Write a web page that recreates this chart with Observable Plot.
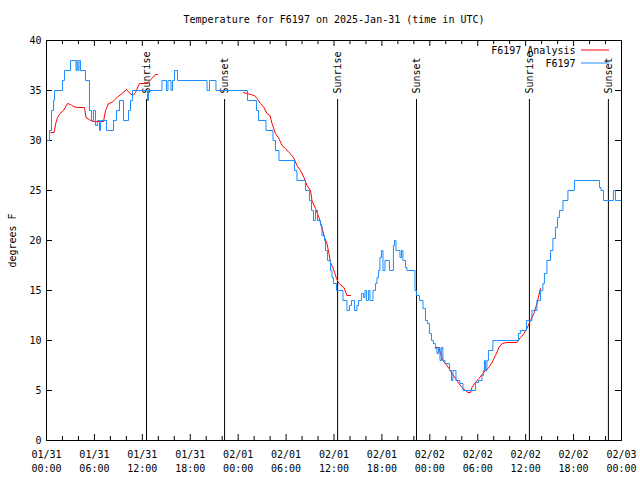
<!DOCTYPE html>
<html><head><meta charset="utf-8">
<script src="https://cdn.jsdelivr.net/npm/d3@7"></script>
<script src="https://cdn.jsdelivr.net/npm/@observablehq/plot@0.6"></script>
<style>html,body{margin:0;padding:0;background:#fff} svg{display:block}</style>
</head><body><div id="chart"></div>
<script>
// Time is in hours after 2025-01-31 00:00 UTC
const startUTC = Date.UTC(2025, 0, 31);
const toDate = h => new Date(startUTC + h * 3600e3);

const titleText = "Temperature for F6197 on 2025-Jan-31 (time in UTC)";
const yLabel = "degrees F";
const seriesNames = ["F6197 Analysis", "F6197"];
const seriesColors = ["#ff0000", "#1a8cff"];

const yDomain = [0, 40];
const yTicks = [0, 5, 10, 15, 20, 25, 30, 35, 40];
const xMajorHours = [0, 6, 12, 18, 24, 30, 36, 42, 48, 54, 60, 66, 72];
const xMinorHours = [2, 4, 8, 10, 14, 16, 20, 22, 26, 28, 32, 34, 38, 40, 44, 46, 50, 52, 56, 58, 62, 64, 68, 70];

const sunHours = [12.52, 22.30, 36.45, 46.33, 60.47, 70.36];
const sunLabels = ["Sunrise", "Sunset", "Sunrise", "Sunset", "Sunrise", "Sunset"];

// F6197 observations (stepped)
const obsHours = [0.13,0.38,0.63,0.88,1.00,2.00,2.25,3.01,3.69,3.82,3.94,4.07,4.26,4.88,5.38,5.63,5.88,6.13,6.38,6.64,6.76,7.51,8.39,8.76,9.14,9.64,10.27,10.52,10.77,12.65,12.77,14.46,15.02,15.21,15.59,15.78,16.03,16.40,20.10,20.41,21.22,25.17,26.29,26.54,27.48,28.36,28.67,29.11,31.05,31.36,32.43,32.93,33.18,33.43,33.68,33.93,34.30,34.49,34.81,34.93,35.18,35.56,35.75,35.93,36.31,37.12,37.62,37.94,38.19,38.56,38.87,39.06,39.44,39.69,39.87,40.06,40.31,40.50,40.88,41.19,41.38,41.57,41.75,41.94,42.13,42.38,42.94,43.44,43.57,43.76,44.26,44.45,44.63,44.95,45.13,46.14,46.32,46.70,47.14,47.45,47.70,47.95,48.20,48.45,48.70,48.89,49.08,49.27,49.45,49.64,49.89,50.46,50.71,50.89,51.27,51.77,52.15,53.71,54.09,54.53,54.71,54.84,54.96,55.15,55.34,55.90,59.09,59.34,60.10,60.78,61.41,61.85,62.16,62.35,62.66,63.10,63.41,63.73,63.98,64.23,64.67,65.29,66.11,69.24,69.43,69.74,70.99,71.24,72.00];
const obsTemps = [30,31,33,34,35,36,37,38,37,38,37,38,37,36,33,32,33,31.5,32,31,32,31,32,33,34,32,33,34,35,34,35,36,35,36,35,36,37,36,35,36,35,34,33,32,31,30,29,28,27,26,25,24,23,22,23,22,21.5,20.5,20,19,18,17,16.3,15.7,15,14,13,13.5,14,13,13.5,14,14.7,14.3,15,14,15,14,15,15.7,16.3,17,18.3,19,17,18,17,19.5,20,19,18.3,19,18,17.3,17,15,14.5,14,13.2,12,11.7,10.7,10,9.7,9.2,8.7,9.3,8,9.3,8,7.7,7,6,7,6,5.7,5,5.8,6,6.5,7,8,7,8,9,10,10.7,11,12,13,14,15,15.7,16.7,18,19,20.2,21.3,22.3,23,24,25,26,25.3,25,24,25,24,24];

// F6197 Analysis: three separate runs
const anaHours1 = [0.56,0.94,1.19,1.38,1.69,2.13,2.63,3.01,3.38,3.88,4.76,4.95,5.51,5.88,7.14,7.39,7.76,8.20,8.83,9.45,10.02,10.46,10.83,11.14,11.64,12.58,13.21,13.65,13.90];
const anaTemps1 = [30.8,30.8,31.8,32.3,32.7,33.0,33.7,33.6,33.4,33.3,33.3,32.3,32,31.9,31.9,33,33.7,33.8,34.3,34.7,35.1,34.7,34.5,34.8,35.7,35.7,36.2,36.6,36.6];
const anaHours2 = [24.67,25.54,26.04,26.36,26.79,27.23,27.61,27.99,28.24,28.67,29.11,29.49,29.92,30.36,30.74,30.99,31.36,31.80,32.24,32.62,33.06,33.24,33.68,34.12,34.49,34.81,35.12,35.37,35.56,36.00,36.31,36.62,37.25,37.62,38.06];
const anaTemps2 = [34.8,34.6,34.5,34.2,33.7,33.3,32.7,32.5,31.7,30.7,30.2,29.5,29.2,28.8,28.5,28.2,27.5,27,26.3,25.5,25,24,23.2,22.3,21.3,20.3,19.7,18.7,17.8,17,16.2,15.7,15.3,14.5,14.5];
const anaHours3 = [48.70,49.14,49.33,49.64,49.96,50.40,50.77,51.21,51.65,52.03,52.46,52.78,53.09,53.28,53.71,54.15,54.53,54.97,55.40,55.78,56.22,56.66,57.04,57.66,58.91,59.35,59.79,60.16,60.60,61.04,61.41,61.85];
const anaTemps3 = [9.3,9.3,8.7,8,7.7,7.2,6.7,6.2,5.7,5.3,5,4.8,4.8,5.3,5.8,6.2,6.6,7,7.3,7.8,8.5,9.3,9.7,9.8,9.8,10.3,10.7,11.2,12,12.7,13.7,15.2];

const obs = obsHours.map((h, i) => ({t: toDate(h), v: obsTemps[i]}));
const ana = [[anaHours1, anaTemps1], [anaHours2, anaTemps2], [anaHours3, anaTemps3]]
  .flatMap(([hs, vs], s) => hs.map((h, i) => ({t: toDate(h), v: vs[i], seg: s})));
const sun = sunHours.map((h, i) => ({t: toDate(h), label: sunLabels[i]}));
const majorTicks = xMajorHours.map(toDate);
const minorTicks = xMinorHours.map(toDate);
const fmt = d3.utcFormat("%m/%d\n%H:%M");

const W = 640, H = 480, mL = 46, mR = 19, mT = 40, mB = 40;
const innerW = W - mL - mR, innerH = H - mT - mB;

const chart = Plot.plot({
  width: W, height: H,
  marginLeft: mL, marginRight: mR, marginTop: mT, marginBottom: mB,
  style: {fontFamily: "'DejaVu Sans Mono', monospace", fontSize: "10px", color: "#000", background: "#fff", overflow: "visible"},
  x: {type: "utc", domain: [toDate(xMajorHours[0]), toDate(xMajorHours[xMajorHours.length - 1])]},
  y: {domain: yDomain},
  marks: [
    Plot.axisY({ticks: yTicks, tickSize: 0, tickPadding: 5, label: null, tickFormat: d => String(d)}),
    Plot.axisX({ticks: majorTicks, tickSize: 0, tickPadding: 8, tickFormat: fmt, label: null, lineHeight: 1.4}),
    // inward ticks (bottom, top, left, right)
    Plot.ruleX(majorTicks, {insetTop: innerH - 6, stroke: "#000"}),
    Plot.ruleX(majorTicks, {insetBottom: innerH - 6, stroke: "#000"}),
    Plot.ruleX(minorTicks, {insetTop: innerH - 4, stroke: "#000"}),
    Plot.ruleX(minorTicks, {insetBottom: innerH - 4, stroke: "#000"}),
    Plot.ruleY(yTicks, {insetRight: innerW - 6, stroke: "#000"}),
    Plot.ruleY(yTicks, {insetLeft: innerW - 6, stroke: "#000"}),
    // sunrise / sunset
    Plot.ruleX(sun, {x: "t", insetTop: 59, stroke: "#000"}),
    Plot.text(sun, {x: "t", text: "label", frameAnchor: "top", rotate: -90, textAnchor: "start", lineAnchor: "middle", dy: 53, fill: "#000"}),
    // series
    Plot.line(ana, {x: "t", y: "v", z: "seg", stroke: seriesColors[0], strokeWidth: 1}),
    Plot.line(obs, {x: "t", y: "v", curve: "step-after", stroke: seriesColors[1], strokeWidth: 1}),
    // legend
    Plot.text([seriesNames[0]], {frameAnchor: "top-right", dx: -46, dy: 10, textAnchor: "end", lineAnchor: "middle", fill: "#000"}),
    Plot.text([seriesNames[1]], {frameAnchor: "top-right", dx: -46, dy: 23, textAnchor: "end", lineAnchor: "middle", fill: "#000"}),
    Plot.ruleY([yDomain[1]], {insetLeft: innerW - 40, insetRight: 12, dy: 9.5, stroke: seriesColors[0]}),
    Plot.ruleY([yDomain[1]], {insetLeft: innerW - 40, insetRight: 12, dy: 22.5, stroke: seriesColors[1]}),
    // title and y label
    Plot.text([titleText], {frameAnchor: "top", dy: -21, lineAnchor: "middle", fill: "#000"}),
    Plot.text([yLabel], {frameAnchor: "left", rotate: -90, dx: -34, lineAnchor: "middle", textAnchor: "middle", fill: "#000"}),
    Plot.frame({stroke: "#000"})
  ]
});
document.getElementById("chart").appendChild(chart);
</script>
</body></html>
